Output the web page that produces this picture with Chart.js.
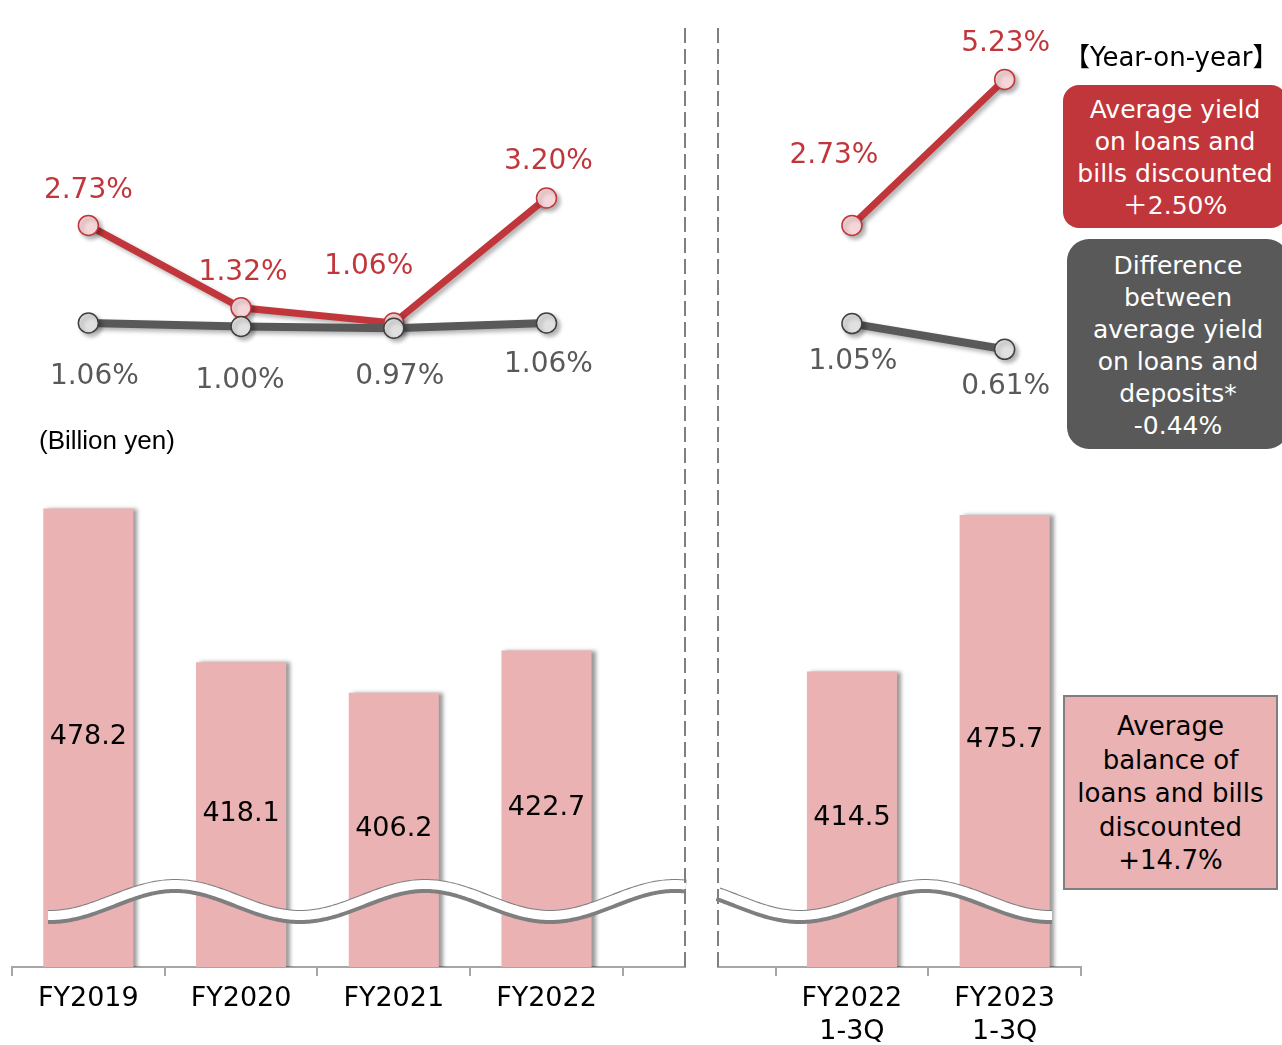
<!DOCTYPE html>
<html>
<head>
<meta charset="utf-8">
<script src="https://cdn.jsdelivr.net/npm/chart.js@4.4.1/dist/chart.umd.min.js"></script>
<style>
body { margin: 0; background: #fff; }
#wrap { position: relative; width: 1282px; height: 1045px; overflow: hidden; font-family: "DejaVu Sans", "Noto Sans CJK JP", sans-serif; }
#c { position: absolute; left: 0; top: 0; }
.note { position: absolute; white-space: nowrap; }
.box { position: absolute; text-align: center; box-sizing: border-box; white-space: nowrap; }
</style>
</head>
<body>
<div id="wrap">
  <canvas id="c" width="1282" height="1045"></canvas>
  <div class="note" style="left:39px;top:425px;font-family:'Liberation Sans',Arial,sans-serif;font-size:26px;line-height:30px;color:#000;">(Billion yen)</div>
  <div class="note" style="left:1064px;top:41px;font-size:26px;line-height:32px;color:#000;">【Year-on-year】</div>
  <div class="box" style="left:1063px;top:85px;width:224px;height:143px;border-radius:16px;background:#C1363B;color:#fff;font-size:25px;line-height:32px;padding-top:9px;">Average yield<br>on loans and<br>bills discounted<br>＋2.50%</div>
  <div class="box" style="left:1067px;top:239px;width:222px;height:210px;border-radius:22px;background:#595959;color:#fff;font-size:25px;line-height:32px;padding-top:11px;">Difference<br>between<br>average yield<br>on loans and<br>deposits*<br>-0.44%</div>
  <div class="box" style="left:1063px;top:695px;width:215px;height:195px;border:2px solid #7F7F7F;background:#EAB2B3;color:#000;font-size:26px;line-height:33.5px;padding-top:13px;">Average<br>balance of<br>loans and bills<br>discounted<br>+14.7%</div>
</div>
<script>
// カテゴリ（5番目は左右のパネルの間の空き）
const categories = [['FY2019'], ['FY2020'], ['FY2021'], ['FY2022'], [''], ['FY2022', '1-3Q'], ['FY2023', '1-3Q']];
// 貸出金平均残高（十億円）
const balance = [478.2, 418.1, 406.2, 422.7, null, 414.5, 475.7];
// 貸出金利回り（%）
const loanYield = [2.73, 1.32, 1.06, 3.20, null, 2.73, 5.23];
// 預貸金利回り差（%）
const yieldDiff = [1.06, 1.00, 0.97, 1.06, null, 1.05, 0.61];

// ラベルの位置調整（点からのずれ）
const loanYieldOffsets = [[0, -35], [2, -35], [-25, -56], [2, -36], null, [-18, -70], [1, -36]];
const yieldDiffOffsets = [[6, 54], [-1, 54], [6, 48], [2, 42], null, [1, 38], [1, 37]];

const RED = '#C1363B';
const GRAY = '#595959';
const BAR = '#EAB2B3';
const FONT = '"DejaVu Sans", sans-serif';

// 影をつける
const shadowPlugin = {
    id: 'shadows',
    beforeDatasetDraw(chart, args) {
        const ctx = chart.ctx;
        ctx.save();
        if (args.meta.type === 'bar') {
            ctx.shadowColor = 'rgba(0,0,0,0.4)';
            ctx.shadowOffsetX = 4;
            ctx.shadowOffsetY = 0;
            ctx.shadowBlur = 4;
        } else {
            ctx.shadowColor = 'rgba(0,0,0,0.3)';
            ctx.shadowOffsetX = 3;
            ctx.shadowOffsetY = 3;
            ctx.shadowBlur = 4;
        }
    },
    afterDatasetDraw(chart) {
        chart.ctx.restore();
    }
};

// 波線、点線、数値ラベル
const decoPlugin = {
    id: 'deco',
    afterDatasetsDraw(chart) {
        const ctx = chart.ctx;
        const area = chart.chartArea;

        // 波線（省略記号）
        const wave = x => 900 - 15.5 * Math.cos(2 * Math.PI * (x - 175) / 250);
        const drawWave = (x0, x1, dy, width, color) => {
            ctx.beginPath();
            for (let x = x0; x <= x1; x += 2) {
                if (x === x0) ctx.moveTo(x, wave(x) + dy);
                else ctx.lineTo(x, wave(x) + dy);
            }
            ctx.lineWidth = width;
            ctx.strokeStyle = color;
            ctx.lineCap = 'butt';
            ctx.stroke();
        };
        [[48, 686], [718, 1052]].forEach(([a, b]) => {
            drawWave(a, b, 1.5, 14, '#7F7F7F');
            drawWave(a, b, 0, 9, '#FFFFFF');
        });

        // 軸の切れ目と縦の点線
        ctx.save();
        ctx.fillStyle = '#fff';
        ctx.fillRect(686, area.bottom - 6, 31, 20);
        ctx.strokeStyle = '#7F7F7F';
        ctx.lineWidth = 2;
        ctx.setLineDash([15, 6]);
        [685, 718].forEach(x => {
            ctx.beginPath();
            ctx.moveTo(x, 28);
            ctx.lineTo(x, area.bottom);
            ctx.stroke();
        });
        ctx.restore();

        // 棒の数値
        ctx.save();
        ctx.font = '27px ' + FONT;
        ctx.textAlign = 'center';
        ctx.textBaseline = 'middle';
        ctx.fillStyle = '#000';
        const bars = chart.getDatasetMeta(0).data;
        balance.forEach((v, i) => {
            if (v == null) return;
            const top = chart.scales.y.getPixelForValue(v);
            ctx.fillText(v.toFixed(1), bars[i].x, (top + area.bottom) / 2 - 1);
        });

        // 折れ線の数値
        ctx.font = '28px ' + FONT;
        const lineLabels = (dsIndex, values, offsets, color) => {
            ctx.fillStyle = color;
            chart.getDatasetMeta(dsIndex).data.forEach((pt, i) => {
                if (values[i] == null) return;
                const [dx, dy] = offsets[i];
                ctx.fillText(values[i].toFixed(2) + '%', pt.x + dx, pt.y + dy);
            });
        };
        lineLabels(1, loanYield, loanYieldOffsets, RED);
        lineLabels(2, yieldDiff, yieldDiffOffsets, GRAY);
        ctx.restore();
    }
};

const ctx = document.getElementById('c').getContext('2d');
const chart = new Chart(ctx, {
    data: {
        labels: categories,
        datasets: [
            {
                type: 'bar',
                label: 'Average balance of loans and bills discounted',
                data: balance,
                backgroundColor: BAR,
                borderWidth: 0,
                barPercentage: 0.59,
                categoryPercentage: 1,
                yAxisID: 'y',
                order: 3
            },
            {
                type: 'line',
                label: 'Average yield on loans and bills discounted',
                data: loanYield,
                borderColor: RED,
                borderWidth: 7,
                pointRadius: 10,
                pointBackgroundColor: '#F6D7D9',
                pointBorderColor: RED,
                pointBorderWidth: 1.5,
                spanGaps: false,
                yAxisID: 'y2',
                order: 2
            },
            {
                type: 'line',
                label: 'Difference between average yield on loans and deposits',
                data: yieldDiff,
                borderColor: GRAY,
                borderWidth: 8,
                pointRadius: 10,
                pointBackgroundColor: '#E0E0E0',
                pointBorderColor: '#404040',
                pointBorderWidth: 1.5,
                spanGaps: false,
                yAxisID: 'y2',
                order: 1
            }
        ]
    },
    options: {
        responsive: false,
        animation: false,
        layout: { padding: { top: 10, left: 12, right: 201, bottom: 0 } },
        plugins: {
            legend: { display: false },
            tooltip: { enabled: false }
        },
        scales: {
            x: {
                offset: true,
                grid: { offset: true, drawOnChartArea: false, drawTicks: true, tickLength: 9, color: '#A6A6A6', lineWidth: 2 },
                border: { color: '#A6A6A6', width: 2 },
                ticks: { color: '#000', font: { family: FONT, size: 27, lineHeight: 1.2 }, padding: 7, maxRotation: 0, autoSkip: false },
                afterFit(scale) { scale.height = 78; }
            },
            y: { display: false, min: 299, max: 672.5 },
            y2: { display: false, min: -9.966, max: 6.393 }
        }
    },
    plugins: [shadowPlugin, decoPlugin]
});
</script>
</body>
</html>
